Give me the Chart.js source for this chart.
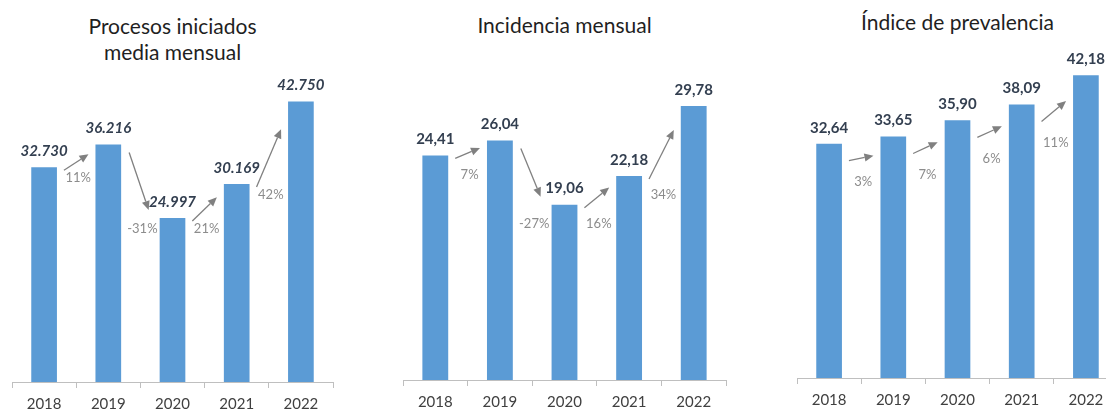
<!DOCTYPE html>
<html lang="es">
<head>
<meta charset="utf-8">
<script src="https://cdn.jsdelivr.net/npm/chart.js@4"></script>
<style>
  html, body { margin: 0; padding: 0; background: #fff; }
  body { width: 1106px; height: 410px; overflow: hidden; position: relative; font-family: Lato, sans-serif; }
  canvas { position: absolute; top: 0; }
  .titulo { position: absolute; text-align: center; color: #1f1f1f; font-size: 21px; line-height: 26px; }
</style>
</head>
<body>

<div class="titulo" style="left:12px; width:321px; top:13px;">Procesos iniciados<br>media mensual</div>
<div class="titulo" style="left:403px; width:323px; top:12px;">Incidencia mensual</div>
<div class="titulo" style="left:797px; width:321px; top:9px;">Índice de prevalencia</div>

<canvas id="grafProcesos" width="325" height="420" style="left:10px"></canvas>
<canvas id="grafIncidencia" width="327" height="418" style="left:401px"></canvas>
<canvas id="grafPrevalencia" width="325" height="416" style="left:795px"></canvas>

<script>
// ---------------------------------------------------------
// Datos
// ---------------------------------------------------------
const anios = ['2018', '2019', '2020', '2021', '2022'];

const procesos = [32730, 36216, 24997, 30169, 42750];
const incidencia = [24.41, 26.04, 19.06, 22.18, 29.78];
const prevalencia = [32.64, 33.65, 35.90, 38.09, 42.18];

// variación interanual (%) tal como aparece en las etiquetas
const varProcesos = [11, -31, 21, 42];
const varIncidencia = [7, -27, 16, 34];
const varPrevalencia = [3, 7, 6, 11];

// ---------------------------------------------------------
// Formatos
// ---------------------------------------------------------
function miles(n) {
    return String(n).replace(/\B(?=(\d{3})+(?!\d))/g, '.');
}
function decimal(n) {
    return n.toFixed(2).replace('.', ',');
}

// dibuja una flecha con punta rellena
function flecha(ctx, x1, y1, x2, y2) {
    const ang = Math.atan2(y2 - y1, x2 - x1);
    const largo = 9, ancho = 4;
    const bx = x2 - largo * Math.cos(ang);
    const by = y2 - largo * Math.sin(ang);
    ctx.beginPath();
    ctx.moveTo(x1, y1);
    ctx.lineTo(bx, by);
    ctx.stroke();
    ctx.beginPath();
    ctx.moveTo(x2, y2);
    ctx.lineTo(bx + ancho * Math.sin(ang), by - ancho * Math.cos(ang));
    ctx.lineTo(bx - ancho * Math.sin(ang), by + ancho * Math.cos(ang));
    ctx.closePath();
    ctx.fill();
}

// plugin: etiquetas de valor, flechas y porcentajes
const anotaciones = {
    id: 'anotaciones',
    afterDatasetsDraw(chart, args, opts) {
        const ctx = chart.ctx;
        const barras = chart.getDatasetMeta(0).data;
        const valores = chart.data.datasets[0].data;

        ctx.save();
        ctx.textAlign = 'center';
        ctx.textBaseline = 'middle';

        // valores encima de cada barra
        ctx.font = opts.fuenteValor;
        ctx.fillStyle = '#333f50';
        barras.forEach((b, i) => {
            ctx.fillText(opts.formato(valores[i]), b.x, b.y - 16);
        });

        // flechas entre barras + variación
        ctx.strokeStyle = '#808080';
        ctx.lineWidth = 1.3;
        ctx.font = '13px Lato';
        for (let i = 0; i < barras.length - 1; i++) {
            const a = barras[i], b = barras[i + 1];
            const medio = a.width / 2;
            let x1, y1, x2, y2;
            if (b.y <= a.y) {
                x1 = a.x + medio + 7;  y1 = a.y + opts.dy;
                x2 = b.x - medio - 7;  y2 = b.y + opts.dy + 0.3 * (a.y - b.y);
            } else {
                x1 = a.x + medio + 8;  y1 = a.y + 8;
                x2 = b.x - medio - 11; y2 = b.y - 8;
            }
            ctx.fillStyle = '#808080';
            flecha(ctx, x1, y1, x2, y2);

            ctx.fillStyle = '#8c8c8c';
            const xm = (a.x + b.x) / 2 + 2;
            const ym = Math.max(a.y, b.y) + opts.dyPct;
            ctx.fillText(opts.variacion[i] + '%', xm, ym);
        }
        ctx.restore();
    }
};

Chart.defaults.font.family = 'Lato';

function crearGrafico(id, valores, maximo, arriba, extra) {
    new Chart(document.getElementById(id), {
        type: 'bar',
        data: {
            labels: anios,
            datasets: [{
                data: valores,
                backgroundColor: '#5b9bd5',
                borderWidth: 0,
                categoryPercentage: 1,
                barPercentage: 0.4
            }]
        },
        options: {
            responsive: false,
            animation: false,
            layout: { padding: { top: arriba, left: 2, right: 2, bottom: 0 } },
            plugins: {
                legend: { display: false },
                tooltip: { enabled: false },
                anotaciones: extra
            },
            scales: {
                y: { display: false, min: 0, max: maximo },
                x: {
                    grid: {
                        offset: true,
                        drawOnChartArea: false,
                        drawTicks: true,
                        tickLength: 6,
                        color: '#bfbfbf'
                    },
                    border: { color: '#bfbfbf' },
                    ticks: {
                        color: '#404040',
                        font: { size: 15 },
                        padding: 7
                    }
                }
            }
        },
        plugins: [anotaciones]
    });
}

crearGrafico('grafProcesos', procesos, 50000, 54, {
    formato: miles,
    fuenteValor: 'italic bold 15px Lato',
    variacion: varProcesos,
    dy: 3,
    dyPct: 11
});

crearGrafico('grafIncidencia', incidencia, 35, 58, {
    formato: decimal,
    fuenteValor: 'bold 15px Lato',
    variacion: varIncidencia,
    dy: 3,
    dyPct: 19
});

crearGrafico('grafPrevalencia', prevalencia, 45, 55, {
    formato: decimal,
    fuenteValor: 'bold 15px Lato',
    variacion: varPrevalencia,
    dy: 17,
    dyPct: 38
});
</script>
</body>
</html>
